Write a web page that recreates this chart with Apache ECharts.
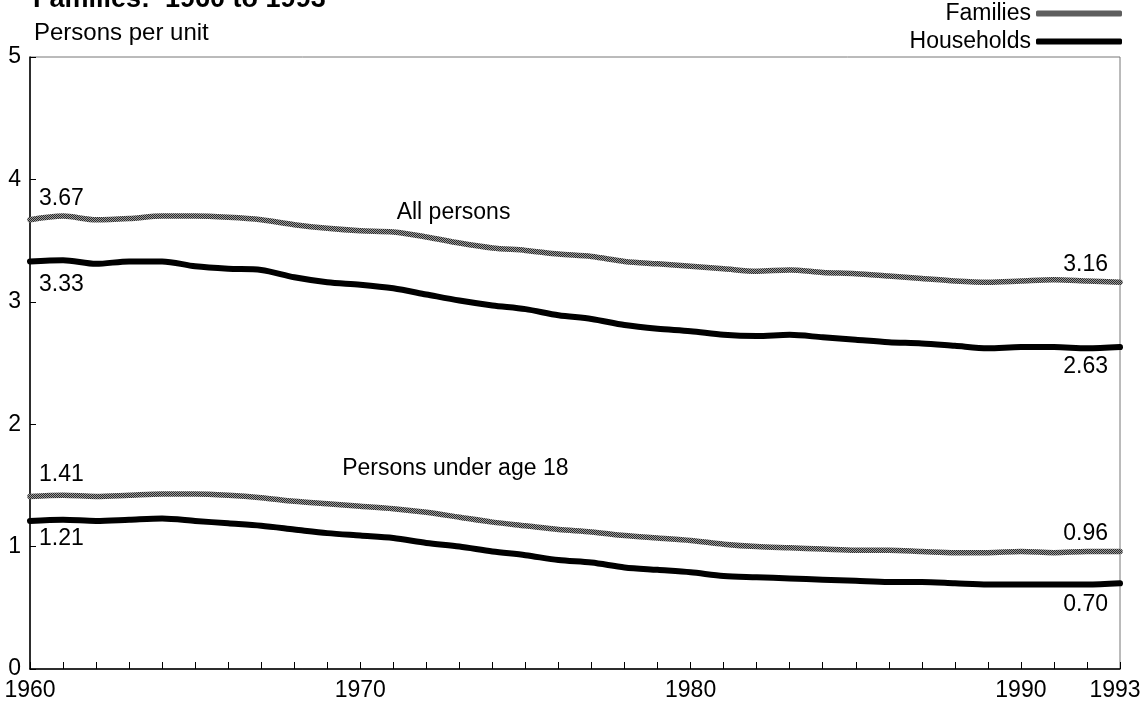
<!DOCTYPE html>
<html>
<head>
<meta charset="utf-8">
<script src="https://cdn.jsdelivr.net/npm/echarts@6/dist/echarts.min.js"></script>
<style>
html,body{margin:0;padding:0;background:#fff;overflow:hidden;}
#c{width:1140px;height:707px;}
</style>
</head>
<body>
<div id="c"></div>
<script>
// ---- data ----
const years = [1960,1961,1962,1963,1964,1965,1966,1967,1968,1969,1970,1971,1972,1973,1974,1975,1976,1977,1978,1979,1980,1981,1982,1983,1984,1985,1986,1987,1988,1989,1990,1991,1992,1993];
const famAll = [3.67,3.70,3.67,3.68,3.70,3.70,3.69,3.67,3.63,3.60,3.58,3.57,3.53,3.48,3.44,3.42,3.39,3.37,3.33,3.31,3.29,3.27,3.25,3.26,3.24,3.23,3.21,3.19,3.17,3.16,3.17,3.18,3.17,3.16];
const hhAll = [3.33,3.34,3.31,3.33,3.33,3.29,3.27,3.26,3.20,3.16,3.14,3.11,3.06,3.01,2.97,2.94,2.89,2.86,2.81,2.78,2.76,2.73,2.72,2.73,2.71,2.69,2.67,2.66,2.64,2.62,2.63,2.63,2.62,2.63];
const famU18 = [1.41,1.42,1.41,1.42,1.43,1.43,1.42,1.40,1.37,1.35,1.33,1.31,1.28,1.24,1.20,1.17,1.14,1.12,1.09,1.07,1.05,1.02,1.00,0.99,0.98,0.97,0.97,0.96,0.95,0.95,0.96,0.95,0.96,0.96];
const hhU18 = [1.21,1.22,1.21,1.22,1.23,1.21,1.19,1.17,1.14,1.11,1.09,1.07,1.03,1.00,0.96,0.93,0.89,0.87,0.83,0.81,0.79,0.76,0.75,0.74,0.73,0.72,0.71,0.71,0.70,0.69,0.69,0.69,0.69,0.70];
const xLabelYears = [1960,1970,1980,1990,1993];
const yTicks = [0,1,2,3,4,5];
const titleText = 'Families:  1960 to 1993';
const yTitle = 'Persons per unit';
const legendNames = ['Families','Households'];
const groupLabels = [
  {text:'All persons', year:1971.1, value:3.73},
  {text:'Persons under age 18', year:1969.45, value:1.64}
];

const FONT = '"Liberation Sans", Arial, Helvetica, sans-serif';
const FS = 23;

// stipple pattern for "Families" lines
const pc = document.createElement('canvas');
pc.width = 4; pc.height = 4;
const pctx = pc.getContext('2d');
for (let i=0;i<4;i++) for (let j=0;j<4;j++){
  pctx.fillStyle = ((i+j)%2===0) ? '#2a2a2a' : '#9a9a9a';
  pctx.fillRect(i,j,1,1);
}
const famColor = {image: pc, repeat: 'repeat'};
const hhColor = '#000';

const pairs = arr => years.map((y,i)=>[y, arr[i]]);

const chart = echarts.init(document.getElementById('c'), null, {renderer:'canvas'});

function lineSeries(name, arr, color, width){
  return {
    name, type:'line', data: pairs(arr), showSymbol:false, symbol:'none',
    smooth:0.3, lineStyle:{color, width, cap:'round', join:'round'},
    itemStyle:{color: name==='Families' ? '#5e5e5e' : color}, emphasis:{disabled:true}, silent:true, animation:false
  };
}

const lastYear = xLabelYears[xLabelYears.length-1];

const option = {
  animation:false,
  grid:{left:30, right:20, top:57, bottom:38, show:true, borderColor:'#777', borderWidth:1,
        backgroundColor:'transparent', outerBoundsMode:'none', containLabel:false},
  legend:{
    data: legendNames, orient:'vertical', right:18, top:2, align:'right',
    itemWidth:86, itemHeight:6, itemGap:5, icon:'roundRect', padding:0,
    textStyle:{fontSize:FS, color:'#000', fontFamily:FONT}, selectedMode:false
  },
  xAxis:{
    type:'value', min:1960, max:1993, interval:1,
    axisLine:{lineStyle:{color:'#000', width:1.5}},
    axisTick:{inside:true, length:7, lineStyle:{color:'#000', width:1}},
    axisLabel:{
      formatter: v => v === lastYear ? '{e|' + v + '}' : (xLabelYears.includes(v) ? String(v) : ''),
      color:'#000', fontSize:FS, fontFamily:FONT, margin:10,
      showMinLabel:true, showMaxLabel:true,
      rich:{e:{fontSize:FS, fontFamily:FONT, color:'#000', padding:[0,10,0,0]}}
    },
    splitLine:{show:false}
  },
  yAxis:{
    type:'value', min:0, max:5, interval:1,
    axisLine:{show:true, lineStyle:{color:'#000', width:1.5}},
    axisTick:{show:true, inside:true, length:6, lineStyle:{color:'#000', width:1}},
    axisLabel:{
      formatter: v => yTicks.includes(v) ? String(v) : '',
      color:'#000', fontSize:FS, fontFamily:FONT, margin:9
    },
    splitLine:{show:false}
  },
  series:[
    lineSeries('Families', famAll, famColor, 5.5),
    lineSeries('Households', hhAll, hhColor, 6),
    lineSeries('Families', famU18, famColor, 5.5),
    lineSeries('Households', hhU18, hhColor, 6)
  ]
};
chart.setOption(option);

// ---- annotations positioned through the chart's own scales ----
const px = (x,y) => chart.convertToPixel({gridIndex:0},[x,y]);
const last = years.length-1;
const endLabels = [
  {arr:famAll, i:0, dx:9, dy:-21, align:'left'},
  {arr:hhAll, i:0, dx:9, dy:23, align:'left'},
  {arr:famAll, i:last, dx:-12, dy:-18, align:'right'},
  {arr:hhAll, i:last, dx:-12, dy:20, align:'right'},
  {arr:famU18, i:0, dx:9, dy:-22, align:'left'},
  {arr:hhU18, i:0, dx:9, dy:18, align:'left'},
  {arr:famU18, i:last, dx:-12, dy:-18, align:'right'},
  {arr:hhU18, i:last, dx:-12, dy:21, align:'right'}
];
const graphics = [];
endLabels.forEach(l=>{
  const p = px(years[l.i], l.arr[l.i]);
  graphics.push({type:'text', x:p[0]+l.dx, y:p[1]+l.dy, silent:true,
    style:{text:l.arr[l.i].toFixed(2), fill:'#000', font:FS+'px '+FONT, align:l.align, verticalAlign:'middle'}});
});
groupLabels.forEach(g=>{
  const p = px(g.year, g.value);
  graphics.push({type:'text', x:p[0], y:p[1], silent:true,
    style:{text:g.text, fill:'#000', font:FS+'px '+FONT, align:'left', verticalAlign:'middle'}});
});
graphics.push({type:'text', x:34, y:33, silent:true,
  style:{text:yTitle, fill:'#000', font:'24px '+FONT, align:'left', verticalAlign:'middle'}});
graphics.push({type:'text', x:33, y:13, silent:true,
  style:{text:titleText, fill:'#000', font:'bold 27px '+FONT, align:'left', verticalAlign:'bottom'}});
chart.setOption({graphic:graphics});
</script>
</body>
</html>
